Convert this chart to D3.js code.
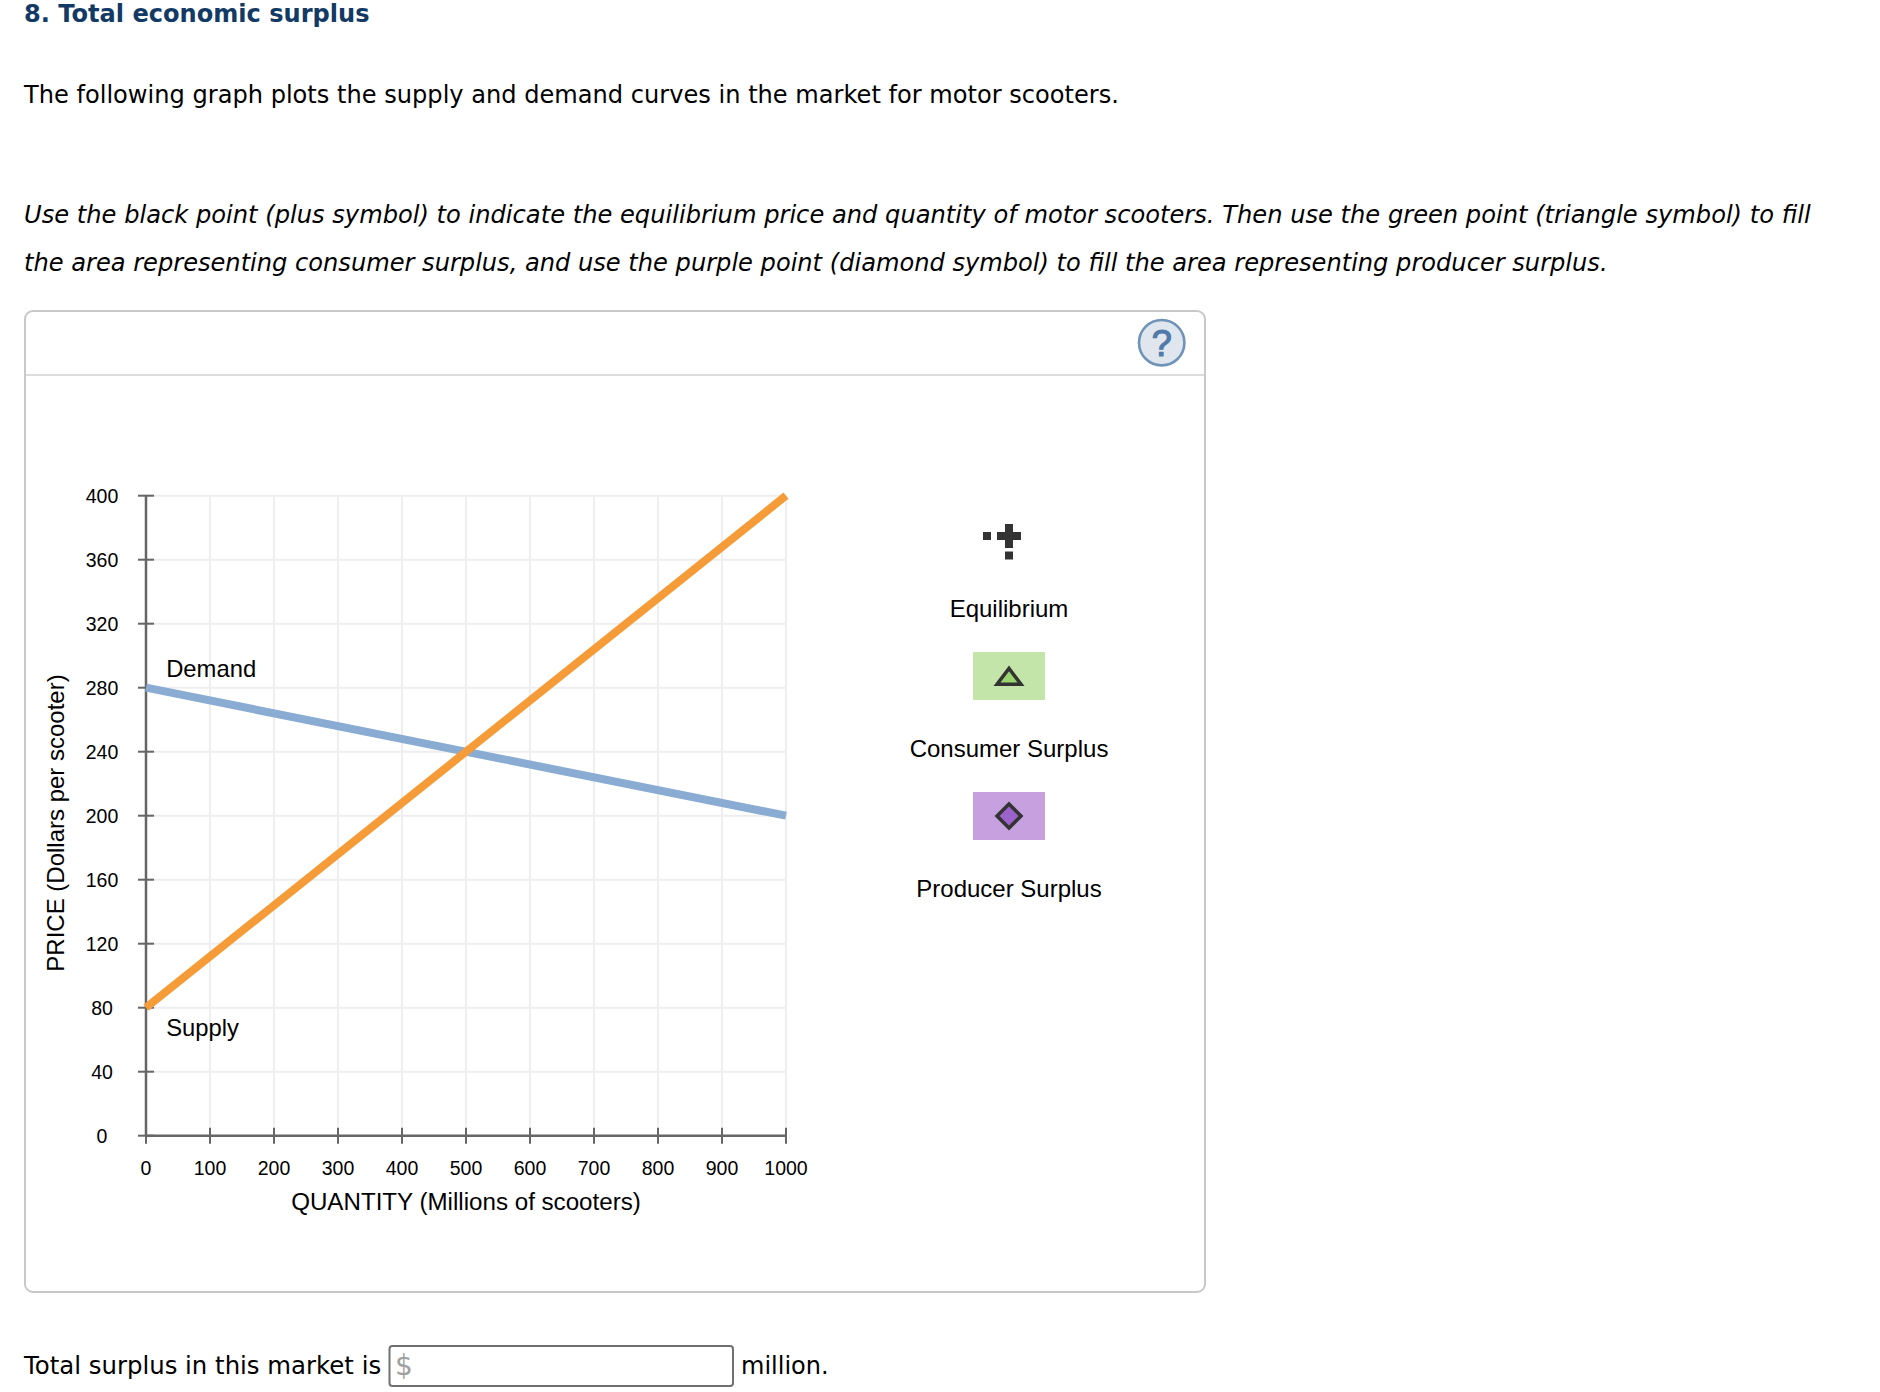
<!DOCTYPE html>
<html><head><meta charset="utf-8">
<script src="https://cdn.jsdelivr.net/npm/d3@7"></script>
<style>
html,body{margin:0;padding:0;background:#fff}
svg{display:block}
.v{font-family:"DejaVu Sans",Verdana,sans-serif}
.a{font-family:"Liberation Sans",Arial,sans-serif;fill:#000}
</style></head><body><svg id="c" width="1880" height="1392"></svg>
<script>
const quantityTicks=[0,100,200,300,400,500,600,700,800,900,1000];
const priceTicks=[0,40,80,120,160,200,240,280,320,360,400];
const demandQ=[0,1000], demandP=[280,200];
const supplyQ=[0,1000], supplyP=[80,400];
const legendLabels=["Equilibrium","Consumer Surplus","Producer Surplus"];
const title="8. Total economic surplus";
const intro="The following graph plots the supply and demand curves in the market for motor scooters.";
const instr1="Use the black point (plus symbol) to indicate the equilibrium price and quantity of motor scooters. Then use the green point (triangle symbol) to fill";
const instr2="the area representing consumer surplus, and use the purple point (diamond symbol) to fill the area representing producer surplus.";

const svg=d3.select("#c");
const T=(s,x,y,cls,size,extra={})=>{const t=svg.append("text").attr("class",cls).attr("x",x).attr("y",y).attr("font-size",size).text(s);
  Object.entries(extra).forEach(([k,v])=>t.attr(k,v));return t;};
T(title,24,22.4,"v",24.08,{"font-weight":"bold",fill:"#123a64"});
T(intro,24,102.5,"v",24.1,{fill:"#000"});
T(instr1,24,223,"v",24.16,{"font-style":"italic",fill:"#000"});
T(instr2,24,271,"v",24.12,{"font-style":"italic",fill:"#000"});

// card
svg.append("rect").attr("x",25).attr("y",311).attr("width",1180).attr("height",981).attr("rx",8).attr("fill","#fff").attr("stroke","#c8c8c8").attr("stroke-width",2);
svg.append("line").attr("x1",26).attr("x2",1204).attr("y1",375).attr("y2",375).attr("stroke","#dcdcdc").attr("stroke-width",2);
svg.append("circle").attr("cx",1161.7).attr("cy",342.7).attr("r",22.7).attr("fill","#dfe6ee").attr("stroke","#6f93b9").attr("stroke-width",2.6);
T("?",1161.7,356,"a",36,{"text-anchor":"middle",style:"fill:#4f7aa8;stroke:#4f7aa8;stroke-width:1.2"});

// plot
const x=d3.scaleLinear().domain([0,1000]).range([146,786]);
const y=d3.scaleLinear().domain([0,400]).range([1135.7,495.7]);
const g=svg.append("g");
g.selectAll(".gx").data(quantityTicks.slice(1)).join("line").attr("x1",d=>x(d)).attr("x2",d=>x(d)).attr("y1",y(0)).attr("y2",y(400)).attr("stroke","#eeeeee").attr("stroke-width",2);
g.selectAll(".gy").data(priceTicks.slice(1)).join("line").attr("x1",x(0)).attr("x2",x(1000)).attr("y1",d=>y(d)).attr("y2",d=>y(d)).attr("stroke","#eeeeee").attr("stroke-width",2);

const xAxis=g.append("g").attr("transform",`translate(0,${y(0)})`).call(d3.axisBottom(x).offset(0).tickValues(quantityTicks).tickSize(8).tickSizeOuter(0).tickFormat(d3.format("d")));
const yAxis=g.append("g").attr("transform",`translate(${x(0)},0)`).call(d3.axisLeft(y).offset(0).tickValues(priceTicks).tickSize(8).tickSizeOuter(0).tickFormat(d3.format("d")));
[xAxis,yAxis].forEach(a=>{a.selectAll("path").attr("stroke","#666").attr("stroke-width",2.5);
  a.selectAll("line").attr("stroke","#666").attr("stroke-width",2);
  a.selectAll("text").attr("class","a").attr("font-size",19.5).attr("fill","#000");});
xAxis.selectAll(".tick line").attr("y1",-8).attr("y2",8);
yAxis.selectAll(".tick line").attr("x1",-8).attr("x2",8);
xAxis.selectAll(".tick text").attr("y",32.5).attr("dy","0.35em").attr("text-anchor","middle");
yAxis.selectAll(".tick text").attr("x",102-x(0)).attr("dy","0.35em").attr("text-anchor","middle");

T("QUANTITY (Millions of scooters)",466,1209.5,"a",24.15,{"text-anchor":"middle"});
svg.append("text").attr("class","a").attr("font-size",24).attr("text-anchor","middle").attr("transform","translate(64,823) rotate(-90)").text("PRICE (Dollars per scooter)");

const line=d3.line().x(d=>x(d[0])).y(d=>y(d[1]));
svg.append("path").datum(d3.zip(demandQ,demandP)).attr("d",line).attr("fill","none").attr("stroke","#8aabd2").attr("stroke-width",8);
svg.append("path").datum(d3.zip(supplyQ,supplyP)).attr("d",line).attr("fill","none").attr("stroke","#f59c39").attr("stroke-width",8);
T("Demand",166.2,677,"a",23.8);
T("Supply",166.2,1036,"a",23.8);

// legend
const lx=1009;
const dark="#333333";
[[lx-12,532,24,8],[lx-4,524,8,24],[lx-26,532,8,8],[lx-4,551.5,8,8]].forEach(r=>svg.append("rect").attr("x",r[0]).attr("y",r[1]).attr("width",r[2]).attr("height",r[3]).attr("fill",dark));
T(legendLabels[0],lx,617,"a",24,{"text-anchor":"middle"});
svg.append("rect").attr("x",973).attr("y",652).attr("width",72).attr("height",48).attr("fill","#c3e5a9");
svg.append("path").attr("d",`M${lx-12},684.3 L${lx},668.5 L${lx+12},684.3 Z`).attr("fill","#9bd56f").attr("stroke",dark).attr("stroke-width",3.5);
T(legendLabels[1],lx,757,"a",24,{"text-anchor":"middle"});
svg.append("rect").attr("x",973).attr("y",792).attr("width",72).attr("height",48).attr("fill","#c6a0df");
svg.append("path").attr("d",`M${lx-12},816 L${lx},804 L${lx+12},816 L${lx},828 Z`).attr("fill","#9b62ca").attr("stroke",dark).attr("stroke-width",3.5);
T(legendLabels[2],lx,897,"a",24,{"text-anchor":"middle"});

// answer
T("Total surplus in this market is",24,1374,"v",24.4,{fill:"#000"});
svg.append("rect").attr("x",389.5).attr("y",1346).attr("width",343.5).attr("height",40).attr("rx",3).attr("fill","#fff").attr("stroke","#707070").attr("stroke-width",2);
T("$",395,1375,"v",28,{fill:"#a0a0a0"});
T("million.",741,1374,"v",24,{fill:"#000"});
</script></body></html>
